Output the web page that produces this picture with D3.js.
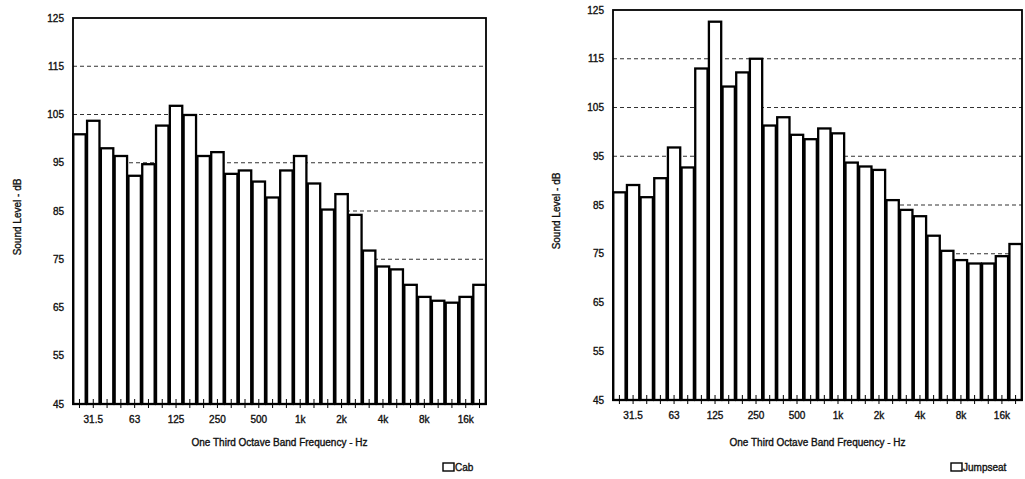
<!DOCTYPE html>
<html><head><meta charset="utf-8">
<script src="https://cdn.jsdelivr.net/npm/d3@7"></script>
<style>
html,body{margin:0;padding:0;background:#fff;}
svg text{font-family:"Liberation Sans",Arial,sans-serif;fill:#111;stroke:#111;stroke-width:0.35px;}
</style></head>
<body><svg id="c" width="1025" height="479"></svg>
<script>
const bands = ["25","31.5","40","50","63","80","100","125","160","200","250","315","400","500","630","800","1k","1.25k","1.6k","2k","2.5k","3.15k","4k","5k","6.3k","8k","10k","12.5k","16k","20k"];
const tickLabels = ["31.5","63","125","250","500","1k","2k","4k","8k","16k"];
const cabValues = [100.9,103.7,98,96.4,92.3,94.7,102.7,106.8,104.9,96.4,97.2,92.7,93.4,91.1,87.8,93.4,96.4,90.7,85.3,88.5,84.2,76.8,73.5,72.9,69.7,67.2,66.4,66,67.2,69.7];
const jumpseatValues = [87.6,89.1,86.6,90.5,96.8,92.7,113,122.6,109.3,112.2,115,101.3,103,99.4,98.5,100.7,99.7,93.7,92.9,92.2,86,84,82.7,78.7,75.6,73.7,73,73,74.5,77];
const yTicks = [45,55,65,75,85,95,105,115,125];
const gridValues = [75,85,95,105,115];
const yTitle = "Sound Level - dB";
const xTitle = "One Third Octave Band Frequency - Hz";
const seriesNames = ["Cab","Jumpseat"];

const svg = d3.select("#c");

function panel(cfg){
  const {left,right,top,bottom,values,name,yTitleX,legendX} = cfg;
  const g = svg.append("g");
  const x = d3.scaleBand().domain(bands).range([left,right]).paddingInner(0.1).paddingOuter(0.02);
  const y = d3.scaleLinear().domain([45,125]).range([bottom,top]);
  g.selectAll("line.grid").data(gridValues).join("line")
    .attr("x1",left).attr("x2",right).attr("y1",d=>y(d)).attr("y2",d=>y(d))
    .attr("stroke","#333").attr("stroke-width",1.2).attr("stroke-dasharray","4,3");
  g.selectAll("rect.bar").data(values).join("rect")
    .attr("x",(d,i)=>x(bands[i])).attr("width",x.bandwidth())
    .attr("y",d=>y(d)).attr("height",d=>bottom-y(d))
    .attr("fill","#fff").attr("stroke","#000").attr("stroke-width",2.3);
  g.append("rect").attr("x",left).attr("y",top).attr("width",right-left).attr("height",bottom-top)
    .attr("fill","none").attr("stroke","#000").attr("stroke-width",1.8);
  g.selectAll("line.tk").data(bands).join("line")
    .attr("x1",d=>x(d)+x.bandwidth()/2).attr("x2",d=>x(d)+x.bandwidth()/2)
    .attr("y1",bottom-5).attr("y2",bottom+4).attr("stroke","#000").attr("stroke-width",1);
  const xa = d3.axisBottom(x).tickValues(tickLabels).tickSize(0).tickPadding(0);
  const xg = g.append("g").attr("transform",`translate(0,${bottom+12})`).call(xa);
  xg.select(".domain").remove();
  xg.selectAll("text").attr("font-size",10).attr("dy","0.71em").style("font-family","Liberation Sans, Arial, sans-serif").attr("fill","#111");
  const ya = d3.axisLeft(y).tickValues(yTicks).tickSize(0).tickPadding(0);
  const yg = g.append("g").attr("transform",`translate(${left-9},0)`).call(ya);
  yg.select(".domain").remove();
  yg.selectAll("text").attr("font-size",10).style("font-family","Liberation Sans, Arial, sans-serif").attr("fill","#111");
  g.append("text").attr("transform",`translate(${yTitleX},${(top+bottom)/2+6}) rotate(-90)`)
    .attr("text-anchor","middle").attr("font-size",10).text(yTitle);
  g.append("text").attr("x",(left+right)/2).attr("y",446).attr("text-anchor","middle")
    .attr("font-size",10).text(xTitle);
  g.append("rect").attr("x",legendX).attr("y",463).attr("width",11).attr("height",8)
    .attr("fill","#fff").attr("stroke","#000").attr("stroke-width",1.4);
  g.append("text").attr("x",legendX+12).attr("y",471).attr("font-size",10).text(name);
}

panel({left:73,right:486,top:18,bottom:404,values:cabValues,name:seriesNames[0],yTitleX:21,legendX:443});
panel({left:613,right:1022,top:10,bottom:400,values:jumpseatValues,name:seriesNames[1],yTitleX:560,legendX:951});
</script></body></html>
